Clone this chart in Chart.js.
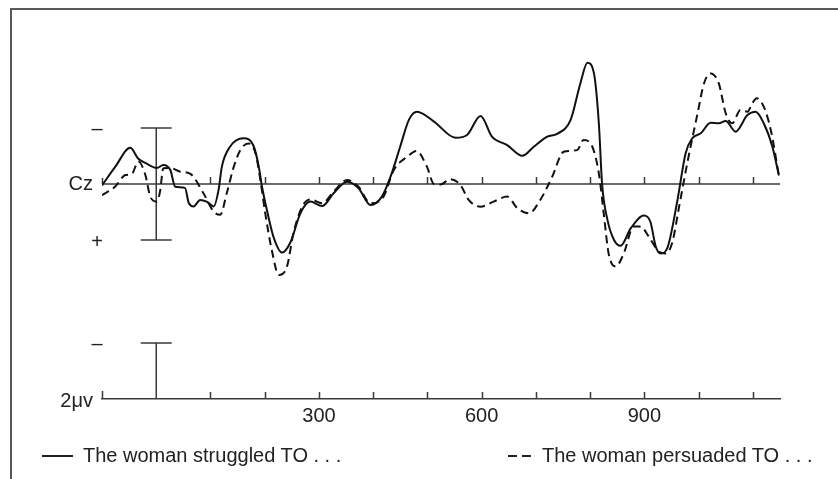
<!DOCTYPE html>
<html>
<head>
<meta charset="utf-8">
<script src="https://cdn.jsdelivr.net/npm/chart.js@4.4.1/dist/chart.umd.min.js"></script>
<style>
  html, body { margin: 0; padding: 0; background: #fff; }
  #wrap { position: relative; width: 838px; height: 479px; overflow: hidden; }
  canvas { display: block; }
  .legend-item {
    position: absolute;
    top: 444px;
    height: 24px;
    line-height: 24px;
    font: 20px "Liberation Sans", Arial, sans-serif;
    color: #222;
    white-space: nowrap;
  }
  .sample { position: absolute; top: 11px; height: 2px; }
  .sample.solid { background: #222; }
  .sample.dashed { background: repeating-linear-gradient(90deg, #222 0 9px, transparent 9px 14px); }
</style>
</head>
<body>
<div id="wrap">
  <canvas id="erp-chart" width="838" height="479"></canvas>
  <div class="legend-item" style="left:42px;">
    <span class="sample solid" style="left:0; width:31px;"></span>
    <span style="position:absolute; left:41px;">The woman struggled TO . . .</span>
  </div>
  <div class="legend-item" style="left:508px;">
    <span class="sample dashed" style="left:0; width:28px;"></span>
    <span style="position:absolute; left:34px;">The woman persuaded TO . . .</span>
  </div>
</div>
<script>
// time axis (ms) and scale
const xMin = -100;
const xMax = 1150;
const tickTimes = [100, 200, 300, 400, 500, 600, 700, 800, 900, 1000, 1100];
const tickLabels = [300, 600, 900];

// voltage range (microvolts, negative plotted up)
const yMin = -5;
const yMax = 7.68;
const barMicrovolts = 2;

// "The woman struggled TO ..." (solid)
const timesStruggled = [-100, -76, -48, -33, -20, 1, 13, 26, 35, 53, 60, 69, 81, 93, 106, 115, 121, 136, 161, 180,
  189, 195, 204, 216, 232, 247, 266, 284, 306, 327, 352, 373, 395, 416, 432, 450, 466, 481, 512, 552,
  573, 598, 619, 647, 675, 696, 721, 739, 764, 782, 795, 807, 816, 822, 832, 844, 856, 875, 899, 911,
  921, 930, 942, 961, 976, 988, 1004, 1022, 1037, 1050, 1068, 1090, 1105, 1120, 1136, 1148];
const valuesStruggled = [0.05, -0.6, -1.29, -0.9, -0.75, -0.57, -0.68, -0.5, 0.1, 0.14, 0.68, 0.8, 0.57, 0.63, 0.8, 0.2, -0.62, -1.33, -1.63, -1.33,
  -0.62, 0.1, 0.93, 1.88, 2.45, 2.1, 1.04, 0.63, 0.79, 0.33, -0.08, 0.15, 0.75, 0.45, -0.26, -1.35, -2.3, -2.58, -2.23, -1.65,
  -1.75, -2.43, -1.69, -1.39, -1.01, -1.33, -1.69, -1.79, -2.29, -3.6, -4.33, -3.95, -2.17, 0, 1.29, 2.0, 2.21, 1.58, 1.13, 1.35,
  2.24, 2.48, 2.3, 0.57, -1.1, -1.63, -1.81, -2.19, -2.17, -2.25, -1.87, -2.46, -2.58, -2.17, -1.33, -0.3];

// "The woman persuaded TO ..." (dashed)
const timesPersuaded = [-100, -76, -57, -45, -33, -20, -11, 1, 7, 13, 26, 44, 63, 87, 106, 118, 130, 143, 155, 170,
  183, 192, 201, 213, 226, 241, 253, 269, 284, 306, 327, 352, 373, 395, 419, 438, 463, 480, 499, 512,
  524, 542, 561, 576, 598, 622, 647, 666, 687, 708, 730, 751, 776, 788, 804, 816, 825, 834, 847, 862,
  880, 893, 908, 927, 939, 951, 964, 979, 998, 1010, 1022, 1037, 1050, 1062, 1077, 1090, 1099, 1107, 1120, 1133, 1148];
const valuesPersuaded = [0.4, 0.1, -0.32, -0.36, -0.8, -0.32, 0.45, 0.63, 0.27, -0.56, -0.57, -0.44, -0.36, 0.33, 0.99, 1.1, 0.33, -0.62, -1.21, -1.45,
  -1.1, -0.14, 1.05, 2.36, 3.25, 2.95, 1.76, 0.81, 0.55, 0.69, 0.27, -0.14, 0.1, 0.69, 0.45, -0.5, -0.98, -1.18, -0.62, 0,
  0.02, -0.17, 0.04, 0.57, 0.81, 0.63, 0.45, 0.87, 1.05, 0.57, -0.26, -1.15, -1.21, -1.57, -1.33, -0.38, 1.05, 2.48, 2.95, 2.48,
  1.52, 1.52, 1.88, 2.42, 2.48, 2.12, 0.81, -0.74, -2.52, -3.6, -3.95, -3.6, -2.52, -2.17, -2.64, -2.58, -2.88, -3.06, -2.76, -1.93, -0.3];

const FONT = '"Liberation Sans", Arial, sans-serif';
const INK = '#222';
const AXIS = '#3a3a3a';

function toPoints(times, values) {
  return times.map((t, i) => ({ x: t, y: values[i] }));
}

// frame, Cz baseline, tick marks, calibration bars and side labels
const erpDecor = {
  id: 'erpDecor',
  beforeDatasetsDraw(chart) {
    const { ctx, chartArea } = chart;
    const x = chart.scales.x;
    const y = chart.scales.y;
    const y0 = y.getPixelForValue(0);
    const yb = chartArea.bottom;
    const x0 = x.getPixelForValue(0);

    ctx.save();
    ctx.lineCap = 'butt';

    // figure frame (top and left edge)
    ctx.strokeStyle = '#5a5a5a';
    ctx.lineWidth = 2;
    ctx.beginPath();
    ctx.moveTo(11, 479);
    ctx.lineTo(11, 9);
    ctx.lineTo(838, 9);
    ctx.stroke();

    ctx.strokeStyle = AXIS;
    ctx.lineWidth = 1.5;

    // Cz baseline
    ctx.beginPath();
    ctx.moveTo(x.getPixelForValue(xMin), y0);
    ctx.lineTo(x.getPixelForValue(xMax), y0);
    ctx.stroke();

    // tick marks pointing up, on both axes
    ctx.beginPath();
    tickTimes.forEach(t => {
      const px = Math.round(x.getPixelForValue(t)) + 0.5;
      ctx.moveTo(px, y0);
      ctx.lineTo(px, y0 - 7);
      ctx.moveTo(px, yb);
      ctx.lineTo(px, yb - 7);
    });
    const pl = x.getPixelForValue(xMin) + 0.5;
    ctx.moveTo(pl, y0);
    ctx.lineTo(pl, y0 - 6);
    ctx.moveTo(pl, yb);
    ctx.lineTo(pl, yb - 8);
    ctx.stroke();

    // calibration bars at stimulus onset
    const cap = 15.5;
    const yTop = y.getPixelForValue(-barMicrovolts);
    const yBot = y.getPixelForValue(barMicrovolts);
    const yLow = y.getPixelForValue(yMax - barMicrovolts);
    ctx.beginPath();
    ctx.moveTo(x0, yTop);
    ctx.lineTo(x0, yBot);
    ctx.moveTo(x0 - cap, yTop);
    ctx.lineTo(x0 + cap, yTop);
    ctx.moveTo(x0 - cap, yBot);
    ctx.lineTo(x0 + cap, yBot);
    ctx.moveTo(x0, yLow);
    ctx.lineTo(x0, yb);
    ctx.moveTo(x0 - cap, yLow);
    ctx.lineTo(x0 + cap, yLow);
    ctx.stroke();

    // side labels
    ctx.fillStyle = INK;
    ctx.font = '20px ' + FONT;
    ctx.textAlign = 'right';
    ctx.textBaseline = 'middle';
    const lx = chartArea.left - 9;
    ctx.fillText('Cz', lx, y0 + 1);
    ctx.fillText('2\u03BCv', lx, yb + 2);

    ctx.textAlign = 'center';
    ctx.textBaseline = 'alphabetic';
    const sx = chartArea.left - 5;
    ctx.fillText('\u2013', sx, yTop + 7);
    ctx.fillText('+', sx, yBot + 8);
    ctx.fillText('\u2013', sx, yLow + 7);
    ctx.restore();
  }
};

const ctx = document.getElementById('erp-chart');

new Chart(ctx, {
  type: 'line',
  data: {
    datasets: [{
      label: 'The woman struggled TO . . .',
      data: toPoints(timesStruggled, valuesStruggled),
      borderColor: '#111',
      borderWidth: 2,
      pointRadius: 0,
      fill: false,
      cubicInterpolationMode: 'monotone'
    }, {
      label: 'The woman persuaded TO . . .',
      data: toPoints(timesPersuaded, valuesPersuaded),
      borderColor: '#111',
      borderWidth: 2,
      borderDash: [8, 5],
      pointRadius: 0,
      fill: false,
      cubicInterpolationMode: 'monotone'
    }]
  },
  options: {
    responsive: false,
    animation: false,
    events: [],
    layout: { padding: { left: 102, right: 58, top: 44, bottom: 0 } },
    plugins: {
      legend: { display: false },
      tooltip: { enabled: false }
    },
    scales: {
      x: {
        type: 'linear',
        min: xMin,
        max: xMax,
        afterFit: function(scale) { scale.height = 80; },
        grid: { display: false, drawTicks: false },
        border: { display: true, color: AXIS, width: 1.5 },
        ticks: {
          stepSize: 100,
          autoSkip: false,
          maxRotation: 0,
          padding: 5,
          color: INK,
          font: { family: FONT, size: 20 },
          callback: function(value) {
            return tickLabels.includes(value) ? String(value) : '';
          }
        }
      },
      y: {
        type: 'linear',
        reverse: true,
        min: yMin,
        max: yMax,
        display: false
      }
    }
  },
  plugins: [erpDecor]
});
</script>
</body>
</html>
